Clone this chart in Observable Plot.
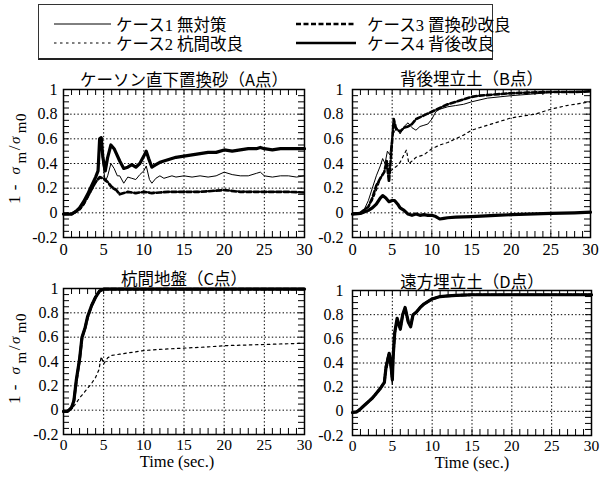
<!DOCTYPE html>
<html><head><meta charset="utf-8">
<script src="https://cdn.jsdelivr.net/npm/d3@7"></script>
<script src="https://cdn.jsdelivr.net/npm/@observablehq/plot@0.6"></script>
<style>
body{margin:0;background:#fff;}
#root{position:relative;width:605px;height:478px;overflow:hidden;background:#fff;font-family:"Liberation Serif","Times New Roman","DejaVu Serif","Noto Sans CJK JP",serif;color:#000;}
.panel{position:absolute;}
.panel svg text{font-family:"Liberation Serif","Times New Roman","DejaVu Serif",serif;}
.panel svg text.ttl, .panel svg .ttl text{font-family:"Noto Sans CJK JP",sans-serif;}
.ylab{position:absolute;transform:translate(-50%,-50%) rotate(-90deg);white-space:nowrap;font-size:17px;line-height:1;letter-spacing:0.5px;}
.ylab i{font-style:italic;font-size:15px;margin:0 1px;}
.ylab sub{font-size:15px;vertical-align:-6px;margin-left:2px;margin-right:1px;}
#legend{position:absolute;left:38px;top:4px;width:455px;height:56px;border:1px solid #333;border-bottom:2px solid #222;box-sizing:border-box;}
.li{position:absolute;display:flex;align-items:center;height:18px;font-size:16.5px;white-space:nowrap;}
.li svg{margin-right:5px;}
</style></head>
<body><div id="root"></div>
<script>
// ---------- data ----------
const caseNames = ["ケース1 無対策", "ケース2 杭間改良", "ケース3 置換砂改良", "ケース4 背後改良"];
const xTicks = [0, 5, 10, 15, 20, 25, 30];
const xTickLabels = ["0", "5", "10", "15", "20", "25", "30"];
const yTicks = [-0.2, 0, 0.2, 0.4, 0.6, 0.8, 1];
const yTickLabels = ["-0.2", "0", "0.2", "0.4", "0.6", "0.8", "1"];
const gridX = [5, 10, 15, 20, 25];
const gridY = [0, 0.2, 0.4, 0.6, 0.8];
const minorX = d3.range(1, 30);
const minorY = d3.range(-0.15, 1, 0.05);
const panelTitles = ["ケーソン直下置換砂（A点）", "背後埋立土（B点）", "杭間地盤（C点）", "遠方埋立土（D点）"];
const timeLabel = "Time (sec.)";

// Panel A
const tA1 = [0,1,1.5,2,2.5,3,3.5,4,4.3,4.5,4.7,4.9,5.2,5.5,5.9,6.3,6.7,7,7.5,8,8.5,9,9.5,10,10.3,10.7,11,11.5,12,12.5,13,13.5,14,15,16,17,18,19,20,21,22,23,24,24.5,25,26,27,28,29,30];
const vA1 = [-0.01,-0.01,0.01,0.04,0.09,0.15,0.22,0.28,0.33,0.58,0.59,0.4,0.25,0.3,0.4,0.36,0.3,0.3,0.24,0.29,0.28,0.27,0.31,0.34,0.38,0.27,0.24,0.28,0.3,0.28,0.29,0.3,0.29,0.3,0.29,0.3,0.29,0.3,0.33,0.31,0.3,0.3,0.32,0.33,0.3,0.29,0.3,0.3,0.29,0.3];
const tA2 = [0,1,1.5,2,2.5,3,3.5,4,4.5,5,5.5,6,6.5,7,7.5,8,9,10,12,15,20,25,30];
const vA2 = [-0.01,-0.01,0.0,0.02,0.06,0.12,0.18,0.24,0.28,0.27,0.24,0.2,0.18,0.16,0.16,0.17,0.16,0.17,0.165,0.17,0.18,0.17,0.165];
const tA3 = [0,1,1.5,2,2.5,3,3.5,4,4.5,5,5.5,6,6.5,7,7.5,8,9,10,11,12,13,14,15,17,20,22,25,28,30];
const vA3 = [-0.01,-0.01,0.01,0.03,0.07,0.13,0.19,0.25,0.29,0.28,0.25,0.21,0.19,0.15,0.16,0.17,0.16,0.17,0.16,0.165,0.17,0.17,0.17,0.17,0.185,0.17,0.17,0.17,0.165];
const tA4 = [0,1,1.5,2,2.5,3,3.5,4,4.3,4.5,4.7,4.9,5.2,5.5,5.9,6.3,7,7.5,8,8.5,9,9.5,10,10.3,10.6,11,11.5,12,13,14,15,16,17,18,19,20,21,22,23,24,24.5,25,26,27,28,29,30];
const vA4 = [-0.01,-0.01,0.01,0.04,0.09,0.15,0.22,0.29,0.34,0.6,0.61,0.45,0.34,0.45,0.55,0.52,0.42,0.36,0.37,0.39,0.37,0.4,0.46,0.5,0.44,0.37,0.39,0.41,0.43,0.45,0.46,0.47,0.48,0.49,0.49,0.51,0.5,0.51,0.52,0.52,0.53,0.52,0.51,0.52,0.52,0.52,0.52];

// Panel B
const tB1 = [0,1,1.5,2,2.5,3,3.5,3.8,4.1,4.4,4.7,5,5.3,5.6,6,6.5,7,7.5,8,8.5,9,9.5,10,10.5,11,12,13,14,15,17,20,22,25,28,30];
const vB1 = [-0.01,0,0.03,0.1,0.2,0.3,0.38,0.44,0.4,0.5,0.47,0.62,0.66,0.69,0.64,0.7,0.73,0.69,0.67,0.7,0.71,0.72,0.76,0.82,0.84,0.86,0.87,0.88,0.9,0.93,0.95,0.96,0.975,0.98,0.985];
const tB2 = [0,1,2,2.5,3,3.5,4,4.4,4.8,5.2,5.6,6,6.4,6.8,7.1,7.5,8,9,10,11,12,13,14,15,16,17,18,20,22,23,25,27,30];
const vB2 = [-0.01,0,0.05,0.1,0.18,0.27,0.34,0.42,0.34,0.36,0.38,0.41,0.46,0.51,0.4,0.42,0.45,0.47,0.52,0.55,0.57,0.6,0.63,0.67,0.69,0.71,0.73,0.77,0.79,0.8,0.84,0.87,0.9];
const tB3 = [0,1,2,2.5,3,3.5,4,4.3,4.6,4.9,5.2,5.5,6,6.5,7,7.5,8,9,10,11,12,13,14,15,16,18,20,22,25,28,30];
const vB3 = [-0.01,0,0.05,0.12,0.22,0.28,0.33,0.42,0.25,0.5,0.76,0.68,0.66,0.69,0.7,0.72,0.76,0.79,0.82,0.85,0.88,0.9,0.92,0.94,0.95,0.96,0.97,0.975,0.98,0.98,0.985];
const tB4 = [0,1,2,2.5,3,3.5,3.8,4.2,4.6,5,5.3,5.7,6,6.5,7,7.5,8,8.5,9,9.5,10,10.5,11,11.5,12,13,15,18,20,22,25,28,30];
const vB4 = [-0.01,-0.005,0.02,0.04,0.07,0.12,0.14,0.12,0.09,0.1,0.1,0.07,0.04,0.02,-0.01,-0.02,-0.01,-0.02,-0.015,-0.02,-0.02,-0.03,-0.05,-0.045,-0.04,-0.035,-0.03,-0.02,-0.015,-0.01,-0.005,0,0.005];

// Panel C
const tC1 = [0,0.5,1,1.3,1.6,2,2.3,2.7,3,3.5,4,4.5,5,10,15,20,25,30];
const vC1 = [-0.01,-0.01,0.02,0.09,0.26,0.43,0.6,0.69,0.77,0.87,0.94,0.985,0.995,0.995,0.995,0.995,0.995,0.995];
const tC2 = [0,0.5,1,1.5,2,2.5,3,3.5,4,4.4,4.7,5,5.5,6,7,8,10,12,15,18,20,25,30];
const vC2 = [-0.01,-0.01,0.01,0.05,0.1,0.14,0.18,0.22,0.27,0.33,0.44,0.38,0.43,0.45,0.46,0.47,0.49,0.5,0.51,0.52,0.53,0.54,0.55];
const tC3 = [0,0.5,1,1.3,1.6,2,2.3,2.7,3,3.5,4,4.5,5,10,15,20,25,30];
const vC3 = [-0.01,-0.01,0.02,0.08,0.24,0.41,0.59,0.68,0.76,0.86,0.93,0.98,0.995,0.995,0.995,0.995,0.995,0.995];
const tC4 = [0,0.5,1,1.3,1.6,2,2.3,2.7,3,3.5,4,4.5,5,10,15,20,25,30];
const vC4 = [-0.01,-0.01,0.02,0.08,0.25,0.42,0.6,0.68,0.77,0.86,0.93,0.98,0.995,0.995,0.995,0.995,0.995,0.995];

// Panel D
const tD1 = [0,0.5,1,1.5,2,2.5,3,3.5,4,4.2,4.4,4.6,4.8,5,5.1,5.3,5.6,6,6.3,6.6,7,7.3,7.6,8,8.5,9,9.5,10,10.5,11,12,13,15,20,25,30];
const vD1 = [-0.01,-0.005,0.02,0.05,0.08,0.11,0.15,0.19,0.24,0.35,0.4,0.45,0.33,0.22,0.42,0.63,0.74,0.67,0.79,0.83,0.73,0.7,0.79,0.82,0.86,0.89,0.91,0.93,0.94,0.95,0.955,0.96,0.965,0.965,0.965,0.965];
const tD2 = [0,0.5,1,1.5,2,2.5,3,3.5,4,4.2,4.4,4.6,4.8,5,5.1,5.3,5.6,6,6.3,6.6,7,7.3,7.6,8,8.5,9,9.5,10,10.5,11,12,13,15,20,25,30];
const vD2 = [-0.01,-0.005,0.02,0.05,0.08,0.11,0.15,0.19,0.24,0.33,0.38,0.43,0.37,0.3,0.44,0.64,0.76,0.68,0.8,0.84,0.74,0.7,0.8,0.82,0.86,0.89,0.91,0.93,0.94,0.95,0.955,0.96,0.965,0.965,0.965,0.965];
const tD3 = [0,0.5,1,1.5,2,2.5,3,3.5,4,4.2,4.4,4.6,4.8,5,5.1,5.3,5.6,6,6.3,6.6,7,7.3,7.6,8,8.5,9,9.5,10,10.5,11,12,13,15,20,25,30];
const vD3 = [-0.01,-0.005,0.02,0.05,0.08,0.11,0.15,0.19,0.24,0.37,0.43,0.48,0.41,0.27,0.45,0.65,0.75,0.69,0.8,0.85,0.74,0.71,0.8,0.82,0.86,0.89,0.91,0.93,0.94,0.95,0.955,0.96,0.965,0.965,0.965,0.965];
const tD4 = [0,0.5,1,1.5,2,2.5,3,3.5,4,4.2,4.4,4.6,4.8,5,5.1,5.3,5.6,6,6.3,6.6,7,7.3,7.6,8,8.5,9,9.5,10,10.5,11,12,13,15,20,25,30];
const vD4 = [-0.01,-0.005,0.02,0.05,0.08,0.11,0.15,0.19,0.24,0.36,0.42,0.48,0.4,0.26,0.45,0.65,0.77,0.68,0.8,0.86,0.74,0.7,0.8,0.82,0.86,0.89,0.91,0.93,0.94,0.95,0.955,0.96,0.965,0.965,0.965,0.965];

// ---------- styles ----------
const caseStyles = [
  {strokeWidth: 1.0, strokeDasharray: null},
  {strokeWidth: 1.2, strokeDasharray: "2.5,3.5"},
  {strokeWidth: 2.6, strokeDasharray: "5,2.5"},
  {strokeWidth: 3.2, strokeDasharray: null}
];

const root = document.getElementById("root");

// legend
const legend = document.createElement("div");
legend.id = "legend";
root.appendChild(legend);
const legPos = [[15, 10], [15, 29], [257, 10], [257, 29]];
caseNames.forEach((name, i) => {
  const d = document.createElement("div");
  d.className = "li";
  d.style.left = legPos[i][0] + "px";
  d.style.top = legPos[i][1] + "px";
  const st = caseStyles[i];
  const w = i < 2 ? 57 : 60;
  d.innerHTML = `<svg width="${w}" height="8"><line x1="0" x2="${w}" y1="4" y2="4" stroke="#000" stroke-width="${i===3?2.6:st.strokeWidth}" ${st.strokeDasharray ? `stroke-dasharray="${st.strokeDasharray}"` : ""}/></svg><span style="margin-left:${i<2?0:6}px">${name}</span>`;
  legend.appendChild(d);
});

function makePanel(cfg) {
  const {series, title, left, top, width, height, mL, mR, mT, mB, yPad, titleDy, showTime, timeDx} = cfg;
  const fw = width - mL - mR, fh = height - mT - mB;
  const order = [3, 2, 1, 0];
  const lineMarks = order.map(k => {
    const [ts, vs] = series[k];
    const data = ts.map((t, i) => ({t, v: vs[i]}));
    return Plot.line(data, {x: "t", y: "v", stroke: "#000", strokeWidth: caseStyles[k].strokeWidth,
      strokeDasharray: caseStyles[k].strokeDasharray, strokeLinejoin: "round"});
  });
  const marks = [
    Plot.ruleX(gridX, {x: d => d, stroke: "#000", strokeWidth: 1, strokeDasharray: "1.4,2.2"}),
    Plot.ruleY(gridY, {y: d => d, stroke: "#000", strokeWidth: 1, strokeDasharray: "1.4,2.2"}),
    Plot.tickX(minorX, {x: d => d, insetTop: fh - 6, stroke: "#000"}),
    Plot.tickX(minorX, {x: d => d, insetBottom: fh - 6, stroke: "#000"}),
    Plot.tickY(minorY, {y: d => d, insetRight: fw - 6, stroke: "#000"}),
    Plot.tickY(minorY, {y: d => d, insetLeft: fw - 6, stroke: "#000"}),
    ...lineMarks,
    Plot.frame({stroke: "#000", strokeWidth: 1.5}),
    Plot.axisY(yTicks, {tickSize: 0, tickPadding: yPad, fontSize: 16, label: null,
      tickFormat: d => yTickLabels[yTicks.indexOf(d)]}),
    Plot.axisX(xTicks, {tickSize: 0, tickPadding: showTime ? 4 : 6, fontSize: showTime ? 15.5 : 16.5, label: null,
      tickFormat: d => xTickLabels[xTicks.indexOf(d)]}),
    Plot.text([title], {frameAnchor: "top", dy: titleDy, fontSize: 16.5, fontFamily: "Noto Sans CJK JP", fill: "#000", className: "ttl"})
  ];
  if (showTime) marks.push(Plot.text([timeLabel], {frameAnchor: "bottom", dy: 32, dx: timeDx, fontSize: 16.5, fill: "#000"}));
  const svg = Plot.plot({
    width, height, marginLeft: mL, marginRight: mR, marginTop: mT, marginBottom: mB,
    x: {domain: [0, 30], label: null},
    y: {domain: [-0.2, 1], label: null},
    style: {fontFamily: "'Liberation Serif', 'Times New Roman', serif", fontSize: "16px", background: "transparent", color: "#000", overflow: "visible"},
    marks
  });
  const div = document.createElement("div");
  div.className = "panel";
  div.style.left = left + "px";
  div.style.top = top + "px";
  div.appendChild(svg);
  root.appendChild(div);
}

makePanel({series: [[tA1, vA1], [tA2, vA2], [tA3, vA3], [tA4, vA4]], title: panelTitles[0],
  left: 0, top: 60, width: 310, height: 200, mL: 63, mR: 6, mT: 29, mB: 23, yPad: 6, titleDy: -15});
makePanel({series: [[tB1, vB1], [tB2, vB2], [tB3, vB3], [tB4, vB4]], title: panelTitles[1],
  left: 300, top: 60, width: 305, height: 200, mL: 52, mR: 15, mT: 29, mB: 23, yPad: 9, titleDy: -16});
makePanel({series: [[tC1, vC1], [tC2, vC2], [tC3, vC3], [tC4, vC4]], title: panelTitles[2],
  left: 0, top: 258, width: 310, height: 220, mL: 63, mR: 6, mT: 30, mB: 44, yPad: 5, titleDy: -15, showTime: true, timeDx: -7});
makePanel({series: [[tD1, vD1], [tD2, vD2], [tD3, vD3], [tD4, vD4]], title: panelTitles[3],
  left: 300, top: 258, width: 305, height: 220, mL: 52, mR: 14, mT: 32, mB: 43, yPad: 9, titleDy: -14, showTime: true, timeDx: 0});

// y-axis labels
[[17, 158], [17, 358]].forEach(([x, y]) => {
  const d = document.createElement("div");
  d.className = "ylab";
  d.style.left = x + "px";
  d.style.top = y + "px";
  d.innerHTML = `1 - &thinsp;<i>σ</i><sub>m</sub>/<i>σ</i><sub>m0</sub>`;
  root.appendChild(d);
});
</script>
</body></html>
